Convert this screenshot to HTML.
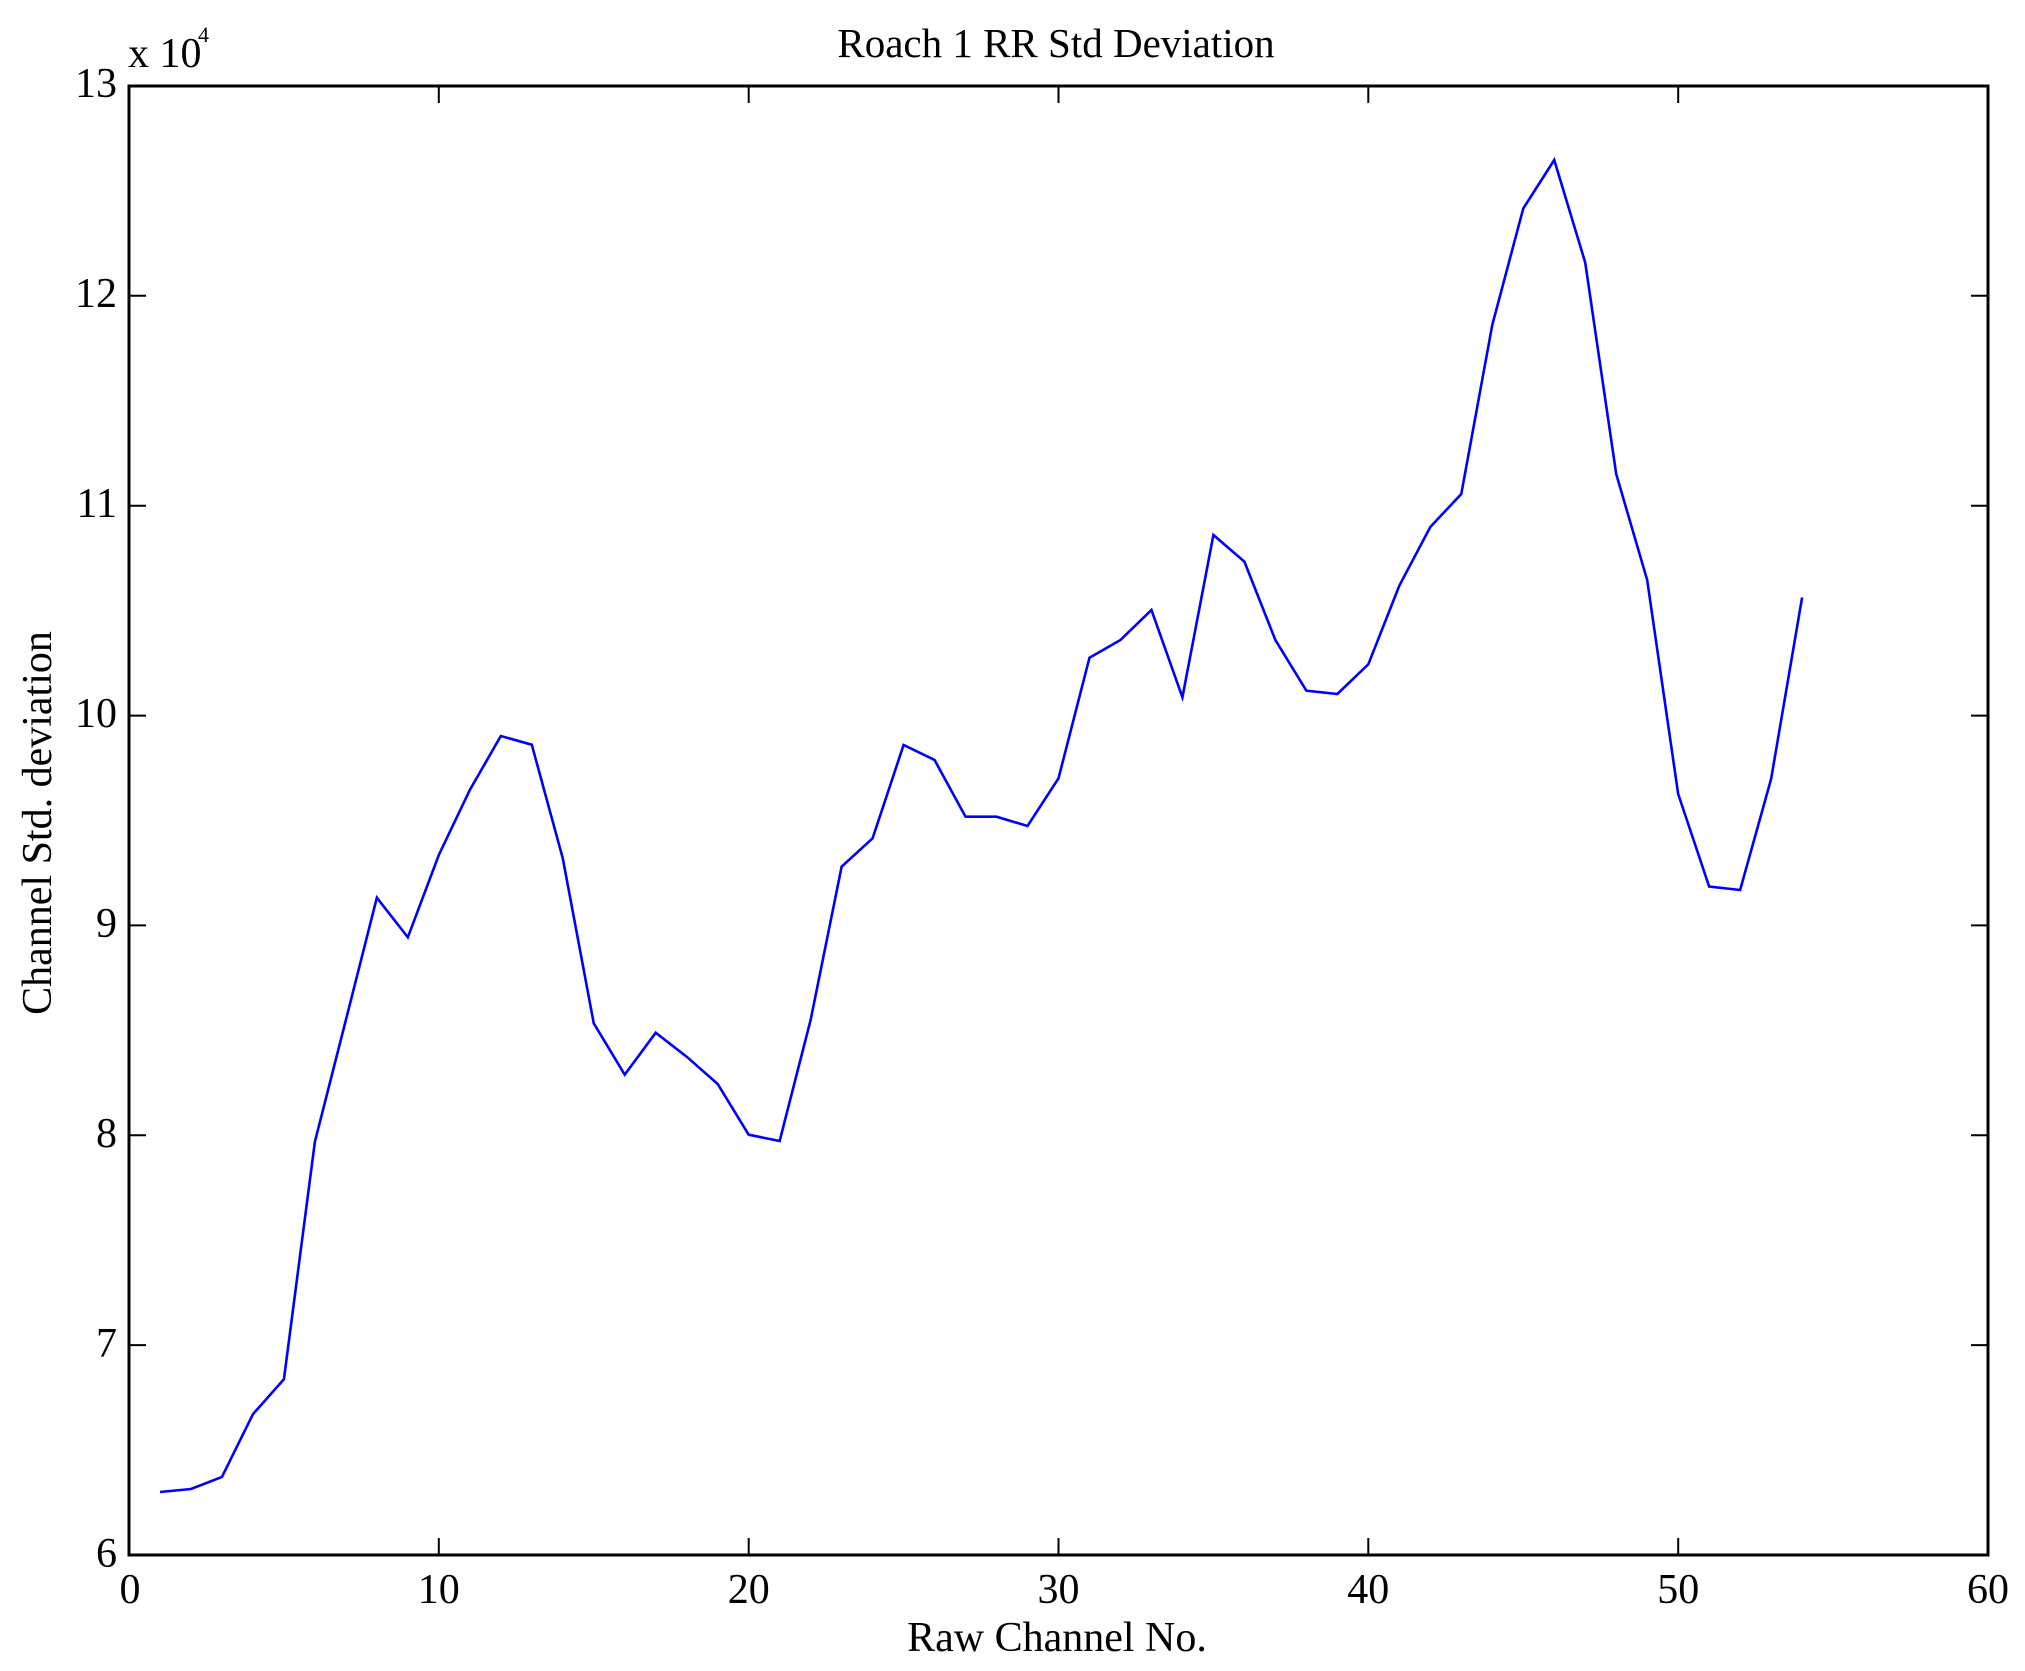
<!DOCTYPE html>
<html>
<head>
<meta charset="utf-8">
<style>
  html, body { margin: 0; padding: 0; background: #ffffff; }
  body { width: 2025px; height: 1671px; overflow: hidden; }
  svg { display: block; }
  text { font-family: "Liberation Serif", "Times New Roman", serif; fill: #000; }
</style>
</head>
<body>
<svg xmlns="http://www.w3.org/2000/svg" width="2025" height="1671" viewBox="0 0 2025 1671">
  <rect x="0" y="0" width="2025" height="1671" fill="#ffffff"/>

  <!-- Title -->
  <text x="1056" y="57" font-size="41" text-anchor="middle">Roach 1 RR Std Deviation</text>

  <!-- Exponent label -->
  <text x="128" y="67" font-size="42">x 10</text>
  <text x="198" y="42" font-size="22">4</text>

  <!-- Data line -->
  <polyline fill="none" stroke="#0000ff" stroke-width="2.6" stroke-linejoin="miter" stroke-linecap="butt"
    points="159.98,1492 190.97,1489 221.95,1477 252.93,1414.2 283.92,1379.3 314.90,1141.7 345.88,1020 376.87,897.7 407.85,937.3 438.83,855 469.82,790 500.80,736 531.78,744.7 562.77,858.3 593.75,1023.3 624.73,1074.7 655.72,1032.7 686.70,1056.7 717.68,1084 748.67,1134.7 779.65,1141 810.63,1020 841.62,866.7 872.60,838.3 903.58,745 934.57,760 965.55,816.7 996.53,816.7 1027.52,826 1058.50,778.3 1089.48,657.7 1120.47,640 1151.45,610 1182.43,697.3 1213.42,535 1244.40,561.7 1275.38,640 1306.37,690.7 1337.35,694 1368.33,664.3 1399.32,585.7 1430.30,527 1461.28,494 1492.27,325 1523.25,208.5 1554.23,160 1585.22,262.5 1616.20,474 1647.18,580 1678.17,794 1709.15,886.5 1740.13,890 1771.12,779 1802.10,597.5"/>

  <!-- Ticks -->
  <g stroke="#000" stroke-width="2">
    <line x1="438.8" y1="1555" x2="438.8" y2="1538"/>
    <line x1="748.7" y1="1555" x2="748.7" y2="1538"/>
    <line x1="1058.5" y1="1555" x2="1058.5" y2="1538"/>
    <line x1="1368.3" y1="1555" x2="1368.3" y2="1538"/>
    <line x1="1678.2" y1="1555" x2="1678.2" y2="1538"/>
    <line x1="438.8" y1="86" x2="438.8" y2="103"/>
    <line x1="748.7" y1="86" x2="748.7" y2="103"/>
    <line x1="1058.5" y1="86" x2="1058.5" y2="103"/>
    <line x1="1368.3" y1="86" x2="1368.3" y2="103"/>
    <line x1="1678.2" y1="86" x2="1678.2" y2="103"/>
    <line x1="129" y1="1345.1" x2="146" y2="1345.1"/>
    <line x1="129" y1="1135.3" x2="146" y2="1135.3"/>
    <line x1="129" y1="925.4" x2="146" y2="925.4"/>
    <line x1="129" y1="715.6" x2="146" y2="715.6"/>
    <line x1="129" y1="505.7" x2="146" y2="505.7"/>
    <line x1="129" y1="295.8" x2="146" y2="295.8"/>
    <line x1="1988" y1="1345.1" x2="1971" y2="1345.1"/>
    <line x1="1988" y1="1135.3" x2="1971" y2="1135.3"/>
    <line x1="1988" y1="925.4" x2="1971" y2="925.4"/>
    <line x1="1988" y1="715.6" x2="1971" y2="715.6"/>
    <line x1="1988" y1="505.7" x2="1971" y2="505.7"/>
    <line x1="1988" y1="295.8" x2="1971" y2="295.8"/>
  </g>

  <!-- Axes box -->
  <rect x="129" y="86" width="1859" height="1469" fill="none" stroke="#000" stroke-width="3"/>

  <!-- X tick labels -->
  <g font-size="42" text-anchor="middle">
    <text x="130" y="1603">0</text>
    <text x="438.8" y="1603">10</text>
    <text x="748.7" y="1603">20</text>
    <text x="1058.5" y="1603">30</text>
    <text x="1368.3" y="1603">40</text>
    <text x="1678.2" y="1603">50</text>
    <text x="1988" y="1603">60</text>
  </g>

  <!-- Y tick labels -->
  <g font-size="42" text-anchor="end">
    <text x="117" y="1567">6</text>
    <text x="117" y="1357">7</text>
    <text x="117" y="1147">8</text>
    <text x="117" y="937">9</text>
    <text x="117" y="727">10</text>
    <text x="117" y="517">11</text>
    <text x="117" y="307">12</text>
    <text x="117" y="97">13</text>
  </g>

  <!-- X axis label -->
  <text x="1057" y="1651" font-size="42" text-anchor="middle">Raw Channel No.</text>

  <!-- Y axis label -->
  <text transform="translate(51,823) rotate(-90)" font-size="42" text-anchor="middle">Channel Std. deviation</text>
</svg>
</body>
</html>
